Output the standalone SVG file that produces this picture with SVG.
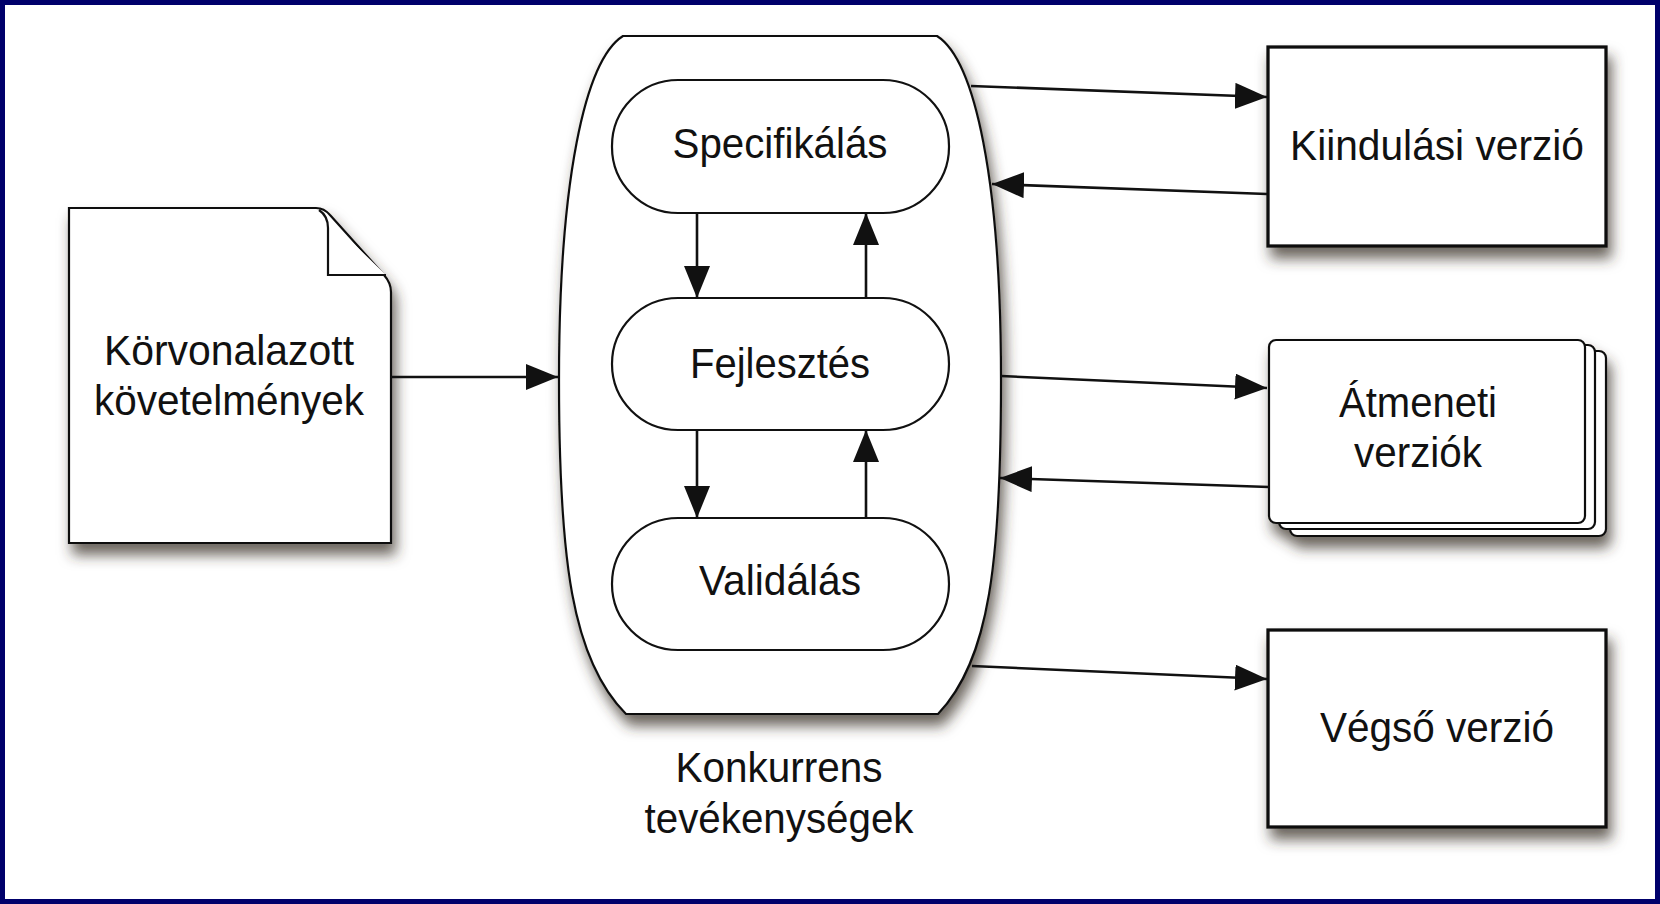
<svg xmlns="http://www.w3.org/2000/svg" width="1660" height="904" viewBox="0 0 1660 904">
<defs>
<style>
.t{font-family:"Liberation Sans",Arial,sans-serif;font-size:42px;fill:#111;text-anchor:middle}
.s{fill:#fff;stroke:#111;stroke-width:2.2}
.b{fill:#fff;stroke:#111;stroke-width:3.3}
.c{fill:none;stroke:#111;stroke-width:2.6}
</style>
<filter id="sh" x="-20%" y="-20%" width="150%" height="160%">
<feDropShadow dx="4" dy="11" stdDeviation="7" flood-color="#3a302c" flood-opacity="0.75"/>
</filter>
<marker id="ah" markerUnits="userSpaceOnUse" markerWidth="33" markerHeight="26" refX="32" refY="13" orient="auto">
<path d="M0,0 L32,13 L0,26 Z" fill="#111"/>
</marker>
</defs>
<rect x="0" y="0" width="1660" height="904" fill="#fff"/>
<rect x="2.5" y="2.5" width="1655" height="899" fill="none" stroke="#00006b" stroke-width="5"/>

<g id="doc">
<path class="s" filter="url(#sh)" d="M69,208 L316,208 Q324,208 330,215 L384,275 Q391,283 391,292 L391,543 L69,543 Z"/>
<path class="s" fill="none" d="M319,210 Q328,216 328,228 L328,275 L386,275"/>
<text class="t" x="229" y="365" textLength="250" lengthAdjust="spacingAndGlyphs">Körvonalazott</text>
<text class="t" x="229" y="415" textLength="270" lengthAdjust="spacingAndGlyphs">követelmények</text>
</g>

<g id="container">
<path class="s" filter="url(#sh)" d="M623,36 L937,36 C975,60 1001,180 1001,380 C1001,560 990,660 938,714 L626,714 C572,660 559,560 559,380 C559,180 585,60 623,36 Z"/>
<text class="t" x="779" y="782" textLength="207" lengthAdjust="spacingAndGlyphs">Konkurrens</text>
<text class="t" x="779" y="833" textLength="269" lengthAdjust="spacingAndGlyphs">tevékenységek</text>
</g>

<g id="spec">
<rect class="s" x="612" y="80" width="337" height="133" rx="66"/>
<text class="t" x="780" y="158" textLength="215" lengthAdjust="spacingAndGlyphs">Specifikálás</text>
</g>
<g id="fejl">
<rect class="s" x="612" y="298" width="337" height="132" rx="66"/>
<text class="t" x="780" y="378" textLength="180" lengthAdjust="spacingAndGlyphs">Fejlesztés</text>
</g>
<g id="valid">
<rect class="s" x="612" y="518" width="337" height="132" rx="66"/>
<text class="t" x="780" y="595" textLength="162" lengthAdjust="spacingAndGlyphs">Validálás</text>
</g>

<g id="kiind">
<rect class="b" filter="url(#sh)" x="1268" y="47" width="338" height="199"/>
<text class="t" x="1437" y="160" textLength="294" lengthAdjust="spacingAndGlyphs">Kiindulási verzió</text>
</g>

<g id="atmeneti">
<g filter="url(#sh)">
<rect class="s" x="1290" y="351" width="316" height="185" rx="7"/>
<rect class="s" x="1279" y="345" width="316" height="184" rx="7"/>
<rect class="s" x="1269" y="340" width="316" height="183" rx="7"/>
</g>
<text class="t" x="1418" y="417" textLength="158" lengthAdjust="spacingAndGlyphs">Átmeneti</text>
<text class="t" x="1418" y="467" textLength="128" lengthAdjust="spacingAndGlyphs">verziók</text>
</g>

<g id="vegso">
<rect class="b" filter="url(#sh)" x="1268" y="630" width="338" height="197"/>
<text class="t" x="1437" y="742" textLength="234" lengthAdjust="spacingAndGlyphs">Végső verzió</text>
</g>

<g id="connectors">
<line class="c" x1="391" y1="377" x2="558" y2="377" marker-end="url(#ah)"/>
<line class="c" x1="697" y1="213" x2="697" y2="298" marker-end="url(#ah)"/>
<line class="c" x1="866" y1="298" x2="866" y2="213" marker-end="url(#ah)"/>
<line class="c" x1="697" y1="430" x2="697" y2="518" marker-end="url(#ah)"/>
<line class="c" x1="866" y1="518" x2="866" y2="430" marker-end="url(#ah)"/>
<line class="c" x1="971" y1="86" x2="1267" y2="97" marker-end="url(#ah)"/>
<line class="c" x1="1267" y1="194" x2="992" y2="184" marker-end="url(#ah)"/>
<line class="c" x1="1001" y1="376" x2="1267" y2="388" marker-end="url(#ah)"/>
<line class="c" x1="1269" y1="487" x2="1000" y2="478" marker-end="url(#ah)"/>
<line class="c" x1="972" y1="666" x2="1267" y2="679" marker-end="url(#ah)"/>
</g>
</svg>
